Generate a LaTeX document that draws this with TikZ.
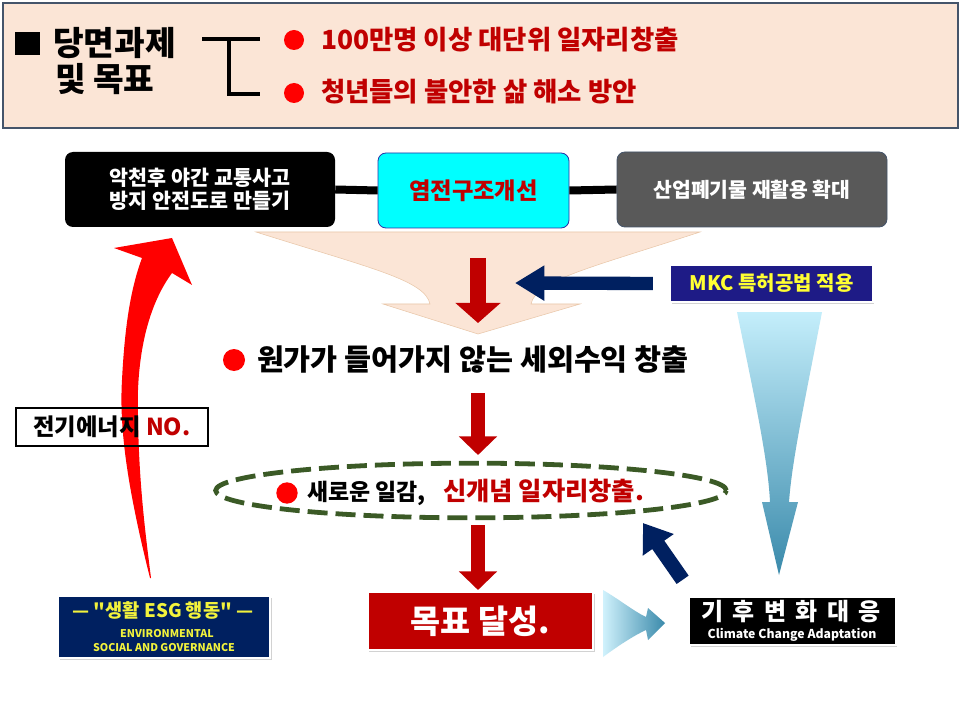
\documentclass[tikz,border=0pt]{standalone}
\usepackage{fontspec}
\setmainfont{Noto Sans CJK KR}[Ligatures=TeXOff]
\usetikzlibrary{arrows.meta,shapes.geometric,shadows,calc}
\definecolor{peach}{HTML}{FBE5D6}
\definecolor{dred}{HTML}{C00000}
\definecolor{navy}{HTML}{002060}
\definecolor{indigo}{HTML}{1E1B86}
\definecolor{egreen}{HTML}{3B5A26}
\definecolor{frame}{HTML}{44546A}
\definecolor{lblue}{HTML}{C4EEFB}
\definecolor{dblue}{HTML}{3A8AAB}
\definecolor{esgyel}{HTML}{F2F23C}
\definecolor{mkcyel}{HTML}{FFFF33}
\definecolor{boxgray}{HTML}{595959}
\definecolor{cyanbox}{HTML}{00FFFF}
\newcommand{\myfs}[1]{\fontsize{#1}{#1}\selectfont}
\begin{document}
\begin{tikzpicture}[x=0.75pt,y=-0.75pt,font=\bfseries,
  txt/.style={inner sep=0pt,outer sep=0pt},
  dot/.style={circle,fill=red,inner sep=0pt,minimum size=#1},
  rbox/.style={rounded corners=6pt,inner sep=0pt,minimum width=202.5pt,minimum height=56.25pt,align=center},
  glowbox/.style={draw=white,line width=1.8pt,inner sep=0pt,drop shadow={opacity=0.35,shadow xshift=1.2pt,shadow yshift=-1.5pt}},
  bigred/.style={draw=dred,line width=12pt,-{Triangle[width=33pt,length=15pt]}},
  midred/.style={draw=dred,line width=10.5pt,-{Triangle[width=28pt,length=14pt]}},
  navyarrow/.style={draw=navy,line width=10pt,-{Triangle[width=25pt,length=22pt]}}]
\useasboundingbox (0,0) rectangle (960,720);
\fill[white] (0,0) rectangle (960,720);

% ---------- top panel ----------
\node[draw=frame,fill=peach,line width=1.1pt,minimum width=716.25pt,minimum height=93.75pt,inner sep=0pt] (top) at (480.5,65.5) {};
\fill (15,32) rectangle (40,55);
\node[txt,anchor=west] (t1) at (53,43) {\myfs{25}당면과제};
\node[txt,anchor=west] (t2) at (55,79) {\myfs{25}및 목표};
\coordinate (bk1) at (202,39);
\coordinate (bk2) at (260,39);
\coordinate (bk3) at (229,39);
\coordinate (bk4) at (229,94);
\coordinate (bk5) at (260,94);
\draw[line width=2.3pt] (bk1) -- (bk2);
\draw[line width=2.3pt] (bk3) -- (bk4) -- (bk5);
\node[dot=15pt] (b1) at (294,40) {};
\node[dot=15pt] (b2) at (294,93) {};
\node[txt,anchor=west,text=dred] (g1) at (321,40) {\myfs{19.8}100만명 이상 대단위 일자리창출};
\node[txt,anchor=west,text=dred] (g2) at (321,92) {\myfs{19.8}청년들의 불안한 삶 해소 방안};

% ---------- funnel ----------
\filldraw[fill=peach,draw=peach!70!brown,line width=0.4pt]
  (256,232) .. controls (370,268) and (425,280) .. (430,304) -- (383,304) -- (478,334)
  -- (580,304) -- (531,304) .. controls (536,280) and (590,268) .. (700,232) -- cycle;

% ---------- three boxes ----------
\node[rbox,fill=black,text=white] (box1) at (200,189.5) {\myfs{15.5}악천후 야간 교통사고\\[2pt]\myfs{15.5}방지 안전도로 만들기};
\node[rbox,fill=cyanbox,draw=frame!60!blue,line width=0.6pt,minimum width=143.25pt,text=dred] (box2) at (473.5,190.5) {\myfs{17.5}염전구조개선};
\node[rbox,fill=boxgray,draw=frame,line width=0.6pt,text=white] (box3) at (752,189.5) {\myfs{15.3}산업폐기물 재활용 확대};
\draw[line width=6pt] (box1.east) -- (box2.west);
\draw[line width=6pt] (box2.east) -- (box3.west);

% ---------- arrow in funnel ----------
\coordinate (a1s) at (478,258);
\coordinate (a1e) at (478,323);
\draw[bigred] (a1s) -- (a1e);

% ---------- MKC ----------
\node[glowbox,fill=indigo,text=mkcyel,minimum width=152pt,minimum height=28pt] (mkc) at (771.5,283.5) {\myfs{15}MKC 특허공법 적용};
\coordinate (nav1e) at (515,283);
\draw[navyarrow] ([xshift=-12pt]mkc.west) -- (nav1e);

% ---------- light blue taper ----------
\shade[top color=lblue,bottom color=dblue]
  (737,312) .. controls (755,400) and (768,460) .. (770,502) -- (762,502) -- (779,575)
  -- (798,502) -- (789,502) .. controls (792,460) and (805,400) .. (822,312) -- cycle;

% ---------- main statement ----------
\node[dot=16.5pt] (b3) at (234,360) {};
\node[txt,anchor=west] (s1) at (257,360) {\myfs{22}원가가 들어가지 않는 세외수익 창출};
\coordinate (a2s) at (478,393);
\coordinate (a2e) at (478,455);
\draw[midred] (a2s) -- (a2e);

% ---------- red curved arrow ----------
\fill[red] (150,578) .. controls (128,490) and (119,430) .. (122,380)
  .. controls (125,320) and (132,285) .. (142,258) -- (114,248) -- (172,238) -- (192,285) -- (172,273)
  .. controls (152,300) and (140,340) .. (138,390) .. controls (137,470) and (145,530) .. (151,578) -- cycle;

\node[draw=black,line width=0.8pt,minimum width=144pt,minimum height=28.5pt,inner sep=0pt] (elec) at (112,427) {\myfs{17.5}전기에너지 \textcolor{dred}{NO.}};

% ---------- ellipse ----------
\node[ellipse,draw=egreen,line width=3.6pt,dash pattern=on 15pt off 6pt,minimum width=383pt,minimum height=41pt,inner sep=0pt] (ell) at (471,490.5) {};
\node[dot=16pt] (b4) at (287,493) {};
\node[txt,anchor=base west] (s2) at (307,500) {\myfs{17.2}새로운 일감,};
\node[txt,anchor=base west,text=dred] (s3) at (443,500) {\myfs{19}신개념 일자리창출.};

\coordinate (a3s) at (478,525);
\coordinate (a3e) at (478,590);
\draw[midred] (a3s) -- (a3e);

% ---------- goal ----------
\node[glowbox,fill=dred,text=white,minimum width=169pt,minimum height=43.5pt] (goal) at (480.5,621) {\myfs{24.5}목표 달성.};

\shade[left color=lblue!80!white,right color=dblue]
  (603,590) .. controls (620,600) and (635,612) .. (646,617) -- (648,608) -- (665,623)
  -- (648,640) -- (646,630) .. controls (633,636) and (618,646) .. (603,657) -- cycle;

\node[glowbox,fill=black,text=white,minimum width=155pt,minimum height=36pt] (clim) at (792.5,621) {};
\node[txt,text=white] (clim1) at (791,612) {\myfs{18}기\hspace{7pt}후\hspace{7pt}변\hspace{7pt}화\hspace{7pt}대\hspace{7pt}응};
\node[txt,text=white] (clim2) at (792,635) {\myfs{9.2}Climate Change Adaptation};

\coordinate (nav2e) at (643,523);
\draw[navy,line width=11pt,-{Triangle[width=27pt,length=20pt]}] ([xshift=-4pt,yshift=12pt]clim.north west) -- (nav2e);

% ---------- ESG ----------
\node[glowbox,fill=navy,minimum width=159pt,minimum height=46.5pt] (esg) at (164,627) {};
\node[txt,text=esgyel] (esg1) at (163,610) {\myfs{14}— "생활 ESG 행동" —};
\node[txt,text=esgyel] (esg2) at (167,634) {\myfs{8}ENVIRONMENTAL};
\node[txt,text=esgyel] (esg3) at (164,648) {\myfs{8}SOCIAL AND GOVERNANCE};
\end{tikzpicture}
\end{document}
